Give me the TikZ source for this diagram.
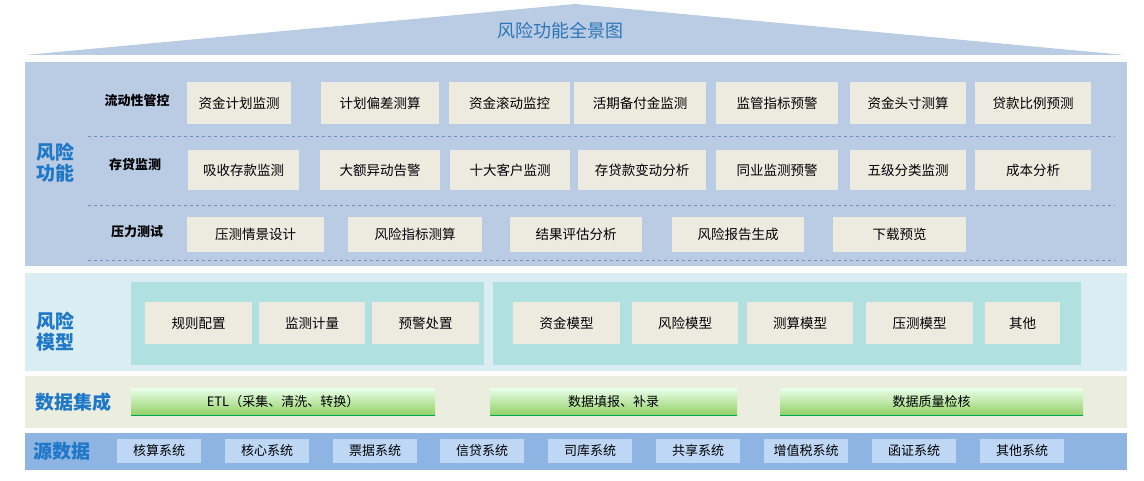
\documentclass[tikz,border=0pt]{standalone}
\usepackage{fontspec}
\setmainfont{Noto Sans CJK SC}
\usetikzlibrary{calc}
\definecolor{panelblue}{HTML}{B9CCE4}
\definecolor{titleblue}{HTML}{2E75B6}
\definecolor{labblue}{HTML}{1F77C8}
\definecolor{itemfill}{HTML}{EDEAE0}
\definecolor{modelbg}{HTML}{DAEDF2}
\definecolor{tealbg}{HTML}{B0E0E0}
\definecolor{databg}{HTML}{EBEEDF}
\definecolor{srcbg}{HTML}{8EB4E3}
\definecolor{srcitem}{HTML}{BDD7F5}
\definecolor{dashblue}{HTML}{6F8FC0}
\tikzstyle{item}=[draw=none, fill=itemfill, font=\fontsize{13.5}{15}\selectfont, inner sep=0pt]
\tikzstyle{sec}=[text=labblue, font=\bfseries\fontsize{19}{21}\selectfont, align=left]
\tikzstyle{row}=[font=\bfseries\fontsize{13}{15}\selectfont]
\tikzstyle{src}=[fill=srcitem, font=\fontsize{13}{15}\selectfont, inner sep=0pt]
\tikzstyle{bar}=[top color=green!8, bottom color=green!45!lime!70!black!60, font=\fontsize{13}{15}\selectfont, inner sep=0pt]

\begin{document}
\begin{tikzpicture}[x=1pt,y=-1pt]
      \useasboundingbox (0,0) rectangle (1144,481);
      % roof
      \fill[panelblue] (25,55) -- (575,4) -- (1125,55) -- cycle;
      \node[text=titleblue, font=\fontsize{18}{20}\selectfont] (title) at (560,31) {风险功能全景图};

      % risk functions
      \fill[panelblue] (25,62) rectangle (1127,266);
      \node[sec] (fun) at (55,163) {风险\\功能};
      \node[row] (r1) at (137,101) {流动性管控};
      \node[row] (r2) at (135,165) {存贷监测};
      \node[row] (r3) at (137,232) {压力测试};
      \foreach \y in {136,205,260}
        \draw[dashblue, dashed] (88,\y) -- (1115,\y);
      \foreach \a/\b/\t [count=\i] in {187/291/资金计划监测, 321/439/计划偏差测算, 449/570/资金滚动监控,
          574/706/活期备付金监测, 716/838/监管指标预警, 850/966/资金头寸测算, 975/1091/贷款比例预测}
        \node[item, minimum width=\b-\a, minimum height=42] (fa\i) at ({(\a+\b)/2},103) {\t};
      \foreach \a/\b/\t [count=\i] in {188/299/吸收存款监测, 320/440/大额异动告警, 450/570/十大客户监测,
          578/706/存贷款变动分析, 716/838/同业监测预警, 850/966/五级分类监测, 975/1091/成本分析}
        \node[item, minimum width=\b-\a, minimum height=40] (fb\i) at ({(\a+\b)/2},170) {\t};
      \foreach \a/\b/\t [count=\i] in {187/324/压测情景设计, 348/482/风险指标测算, 510/642/结果评估分析,
          672/804/风险报告生成, 833/966/下载预览}
        \node[item, minimum width=\b-\a, minimum height=35] (fc\i) at ({(\a+\b)/2},234.5) {\t};

      % risk models
      \fill[modelbg] (25,273) rectangle (1127,371);
      \node[sec] (mod) at (55,332) {风险\\模型};
      \fill[tealbg] (131,282) rectangle (484,365);
      \fill[tealbg] (493,282) rectangle (1081,365);
      \foreach \a/\b/\t [count=\i] in {145/252/规则配置, 259/365/监测计量, 372/479/预警处置,
          513/620/资金模型, 632/738/风险模型, 747/853/测算模型, 866/973/压测模型, 985/1060/其他}
        \node[item, minimum width=\b-\a, minimum height=42] (m\i) at ({(\a+\b)/2},323) {\t};

      % data integration
      \fill[databg] (25,376) rectangle (1127,428);
      \node[sec] (dat) at (73,402) {数据集成};
      \foreach \a/\b/\t [count=\i] in {131/435/ETL（采集、清洗、转换）, 490/737/数据填报、补录, 780/1083/数据质量检核}{
        \node[bar, minimum width=\b-\a, minimum height=27] (d\i) at ({(\a+\b)/2},401.5) {\t};
        \draw[teal!70!green, line width=1.2pt] (d\i.south west) -- (d\i.south east);
      }

      % source data
      \fill[srcbg] (25,433) rectangle (1127,470);
      \node[sec] (srcl) at (62,451) {源数据};
      \foreach \a/\t [count=\i] in {117/核算系统, 225/核心系统, 333/票据系统, 440/信贷系统, 548/司库系统,
          656/共享系统, 764/增值税系统, 872/函证系统, 980/其他系统}
        \node[src, minimum width=84, minimum height=24] (s\i) at (\a+42,451) {\t};
\end{tikzpicture}
\end{document}
